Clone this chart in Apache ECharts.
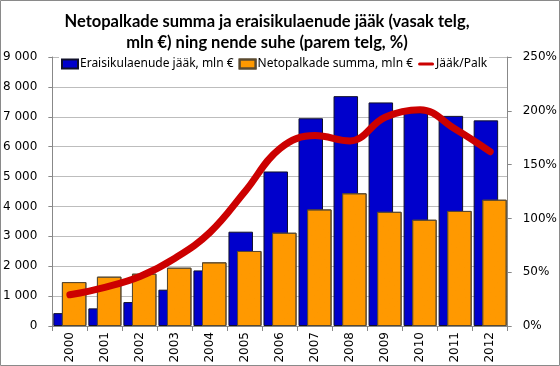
<!DOCTYPE html>
<html>
<head>
<meta charset="utf-8">
<script src="https://cdn.jsdelivr.net/npm/echarts@6/dist/echarts.min.js"></script>
<style>html,body{margin:0;padding:0;background:#fff}#c{width:560px;height:366px}</style>
</head>
<body>
<div id="c"></div>
<script>
const years = ['2000','2001','2002','2003','2004','2005','2006','2007','2008','2009','2010','2011','2012'];
const loans = [430, 590, 800, 1215, 1860, 3155, 5170, 6950, 7690, 7480, 7150, 7030, 6880];
const wages = [1470, 1650, 1750, 1950, 2130, 2510, 3120, 3900, 4440, 3820, 3555, 3850, 4225];
const ratio = [0.29, 0.36, 0.46, 0.63, 0.87, 1.25, 1.65, 1.77, 1.72, 1.94, 2.01, 1.83, 1.62];
const leftTicks = [0, 9000, 1000];
const rightTicks = [0, 2.5, 0.5];
const names = ['Eraisikulaenude jääk, mln €', 'Netopalkade summa, mln €', 'Jääk/Palk'];
const titleText = 'Netopalkade summa ja eraisikulaenude jääk (vasak telg,\nmln €) ning nende suhe (parem telg, %)';

const chart = echarts.init(document.getElementById('c'), null, {renderer: 'canvas'});
const font = 'DejaVu Sans';
chart.setOption({
  animation: false,
  backgroundColor: '#fff',
  title: {
    text: titleText, left: 262, top: 6, textAlign: 'center',
    textStyle: {fontFamily: 'Lato', fontWeight: 'bold', fontSize: 16.5, lineHeight: 21, color: '#000'}
  },
  legend: {
    left: 59, top: 57, itemWidth: 16, itemHeight: 9, itemGap: 5,
    backgroundColor: '#fff', padding: [1, 2],
    textStyle: {fontFamily: 'Noto Sans', fontSize: 12, color: '#000', padding: [0, 0, 0, -3]},
    data: [
      {name: names[0], icon: 'rect'},
      {name: names[1], icon: 'rect'},
      {name: names[2], icon: 'path://M2,0 L18,0 A2,2 0 0 1 18,4 L2,4 A2,2 0 0 1 2,0 Z'}
    ]
  },
  graphic: [{type: 'rect', shape: {x: 0.5, y: 0.5, width: 559, height: 365}, style: {fill: 'none', stroke: '#8a8a8a', lineWidth: 1}, z: 100}],
  grid: {left: 50, right: 50, top: 57, bottom: 40},
  xAxis: {
    type: 'category', data: years,
    axisLine: {lineStyle: {color: '#888'}},
    axisTick: {show: true, alignWithLabel: false, length: 5, lineStyle: {color: '#888'}},
    axisLabel: {rotate: 90, fontFamily: font, fontSize: 12, color: '#000', margin: 6}
  },
  yAxis: [{
    type: 'value', min: leftTicks[0], max: leftTicks[1], interval: leftTicks[2],
    axisLine: {show: true, lineStyle: {color: '#888'}},
    axisTick: {show: true, length: 4, lineStyle: {color: '#888'}},
    splitLine: {lineStyle: {color: '#bdbdbd'}},
    axisLabel: {fontFamily: font, fontSize: 12, color: '#000', margin: 15,
      formatter: v => String(v).replace(/\B(?=(\d{3})+(?!\d))/g, ' ')}
  }, {
    type: 'value', min: rightTicks[0], max: rightTicks[1], interval: rightTicks[2],
    axisLine: {show: true, lineStyle: {color: '#888'}},
    axisTick: {show: true, length: 4, lineStyle: {color: '#888'}},
    splitLine: {show: false},
    axisLabel: {fontFamily: font, fontSize: 12, color: '#000', margin: 15,
      formatter: v => Math.round(v * 100) + '%'}
  }],
  series: [{
    name: names[0], type: 'bar', data: loans, barWidth: 24.5, barGap: '-65%', z: 2,
    itemStyle: {color: '#0000CC', borderColor: '#10102a', borderWidth: 1}
  }, {
    name: names[1], type: 'bar', data: wages, barWidth: 24.5, barGap: '-65%', z: 3,
    itemStyle: {color: '#FF9900', borderColor: '#5a4a30', borderWidth: 1,
      decal: {symbol: 'circle', symbolSize: 0.3, color: 'rgba(200,110,0,0.45)', dashArrayX: [[1, 5]], dashArrayY: [1, 5], rotation: 0.6, backgroundColor: null}}
  }, {
    name: names[2], type: 'line', yAxisIndex: 1, data: ratio, smooth: 0.4, z: 5,
    showSymbol: false, symbol: 'none',
    lineStyle: {color: '#CC0000', width: 7, cap: 'round'},
    itemStyle: {color: '#CC0000'}
  }]
});
</script>
</body>
</html>
